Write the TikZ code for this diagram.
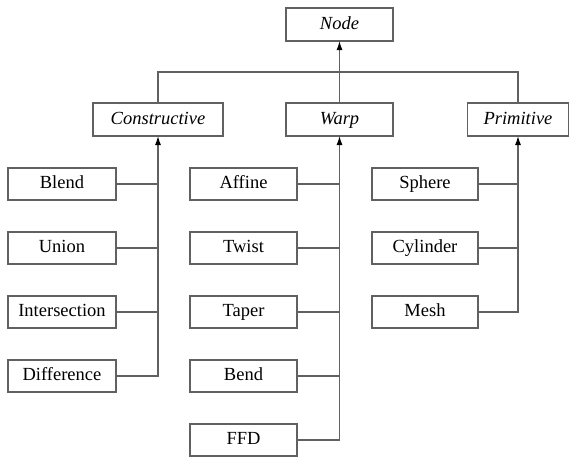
\documentclass[tikz,border=0pt]{standalone}
\usepackage{fontspec}
\setmainfont{Liberation Serif}
\usepackage{tikz}
\usetikzlibrary{positioning,shapes,arrows.meta,calc}
\definecolor{linegray}{rgb}{0.38,0.38,0.38}
\newcommand{\boxfont}{\fontsize{18.5}{22}\selectfont}
\tikzstyle{base} = [rectangle, draw=linegray, line width=1.2pt, fill=white, %
   text centered, minimum height=33pt, inner sep=2pt, outer sep=0pt, %
   text height=13pt, text depth=4pt, font=\boxfont]
\tikzstyle{abstract} = [base, font=\boxfont\itshape]
\tikzstyle{leaf} = [base, minimum height=32pt]
\tikzstyle{conn} = [draw=linegray, line width=1.2pt]
\tikzstyle{line} = [conn, -{Latex[length=9pt,width=6pt,black]}]

\begin{document}
\begin{tikzpicture}[x=1pt, y=1pt]
      \useasboundingbox (0,0) rectangle (569,-458);
      % Place nodes
      % ABSTRACT CLASSES %%%%%%%%%%%%%%%%%%%%%%%%%%%%%%%%%%%%%%%%%%%%%%%%%
         \node[abstract, minimum width=107pt] (node) at (339.5,-24.5) {Node};
         \node[abstract, minimum width=130pt] (constructive) at (158,-119.5) {Constructive};
         \node[abstract, minimum width=107pt] (warp) at (339.5,-119.5) {Warp};
         \node[abstract, minimum width=101pt] (primitive) at (518,-119.5) {Primitive};
         \coordinate (hub) at ($(node.south)!0.5!(warp.north)$);

      % CONSTRUCTIVE %%%%%%%%%%%%%%%%%%%%%%%%%%%%%%%%%%%%%%%%%%%%%%%%%%%%
         \node[leaf, minimum width=108pt] (blend) at (62,-184) {Blend};
         \node[leaf, minimum width=108pt, below=32pt of blend] (union) {Union};
         \node[leaf, minimum width=108pt, below=32pt of union] (intersection) {Intersection};
         \node[leaf, minimum width=108pt, below=32pt of intersection] (difference) {Difference};

      % WARP %%%%%%%%%%%%%%%%%%%%%%%%%%%%%%%%%%%%%%%%%%%%%%%%%%%%%%%%%%%%
         \node[leaf, minimum width=107pt] (affine) at (243.5,-184) {Affine};
         \node[leaf, minimum width=107pt, below=32pt of affine] (twist) {Twist};
         \node[leaf, minimum width=107pt, below=32pt of twist] (taper) {Taper};
         \node[leaf, minimum width=107pt, below=32pt of taper] (bend) {Bend};
         \node[leaf, minimum width=107pt, below=32pt of bend] (ffd) {FFD};

      % PRIMITIVE %%%%%%%%%%%%%%%%%%%%%%%%%%%%%%%%%%%%%%%%%%%%%%%%%%%%%%%
         \node[leaf, minimum width=106pt] (sphere) at (425,-184) {Sphere};
         \node[leaf, minimum width=106pt, below=32pt of sphere] (cylinder) {Cylinder};
         \node[leaf, minimum width=106pt, below=32pt of cylinder] (mesh) {Mesh};

      % Draw edges
      % Top level
         \path [line] (warp.north) -- (node.south);
         \path [conn] (constructive.north) |- (hub) -| (primitive.north);
      % Constructive branch
         \path [conn] (blend.east) -- (blend.east -| constructive.south);
         \path [conn] (union.east) -- (union.east -| constructive.south);
         \path [conn] (intersection.east) -- (intersection.east -| constructive.south);
         \path [line] (difference.east) -| (constructive.south);
      % Warp branch
         \path [conn] (affine.east) -- (affine.east -| warp.south);
         \path [conn] (twist.east) -- (twist.east -| warp.south);
         \path [conn] (taper.east) -- (taper.east -| warp.south);
         \path [conn] (bend.east) -- (bend.east -| warp.south);
         \path [line] (ffd.east) -| (warp.south);
      % Primitive branch
         \path [conn] (sphere.east) -- (sphere.east -| primitive.south);
         \path [conn] (cylinder.east) -- (cylinder.east -| primitive.south);
         \path [line] (mesh.east) -| (primitive.south);
\end{tikzpicture}
\end{document}
